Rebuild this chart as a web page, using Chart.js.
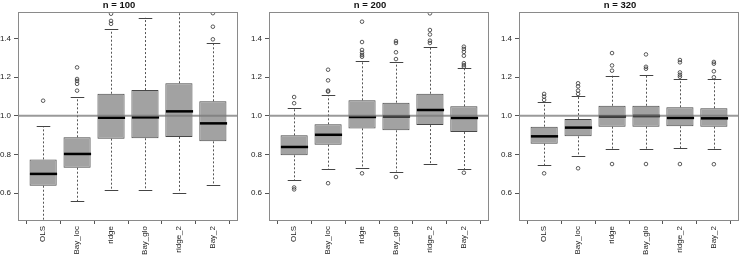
<!DOCTYPE html>
<html>
<head>
<meta charset="utf-8">
<script src="https://cdn.jsdelivr.net/npm/chart.js@4.4.1/dist/chart.umd.min.js"></script>
<style>
  body { margin: 0; width: 740px; height: 255px; overflow: hidden; background: #fff; position: relative; }
  canvas { position: absolute; top: 0; }
</style>
</head>
<body>
<canvas id="c100" width="245" height="255" style="left:0px"></canvas>
<canvas id="c200" width="245" height="255" style="left:251px"></canvas>
<canvas id="c320" width="245" height="255" style="left:501px"></canvas>
<script>
const methods = ['OLS', 'Bay_loc', 'ridge', 'Bay_glo', 'ridge_2', 'Bay_2'];
const yTicks = [0.6, 0.8, 1.0, 1.2, 1.4];
const refLine = 1.0;

// n = 100
const lo100  = [0.464, 0.559, 0.615, 0.615, 0.600, 0.644];
const q1_100 = [0.639, 0.732, 0.882, 0.884, 0.891, 0.868];
const med100 = [0.700, 0.803, 0.990, 0.992, 1.023, 0.961];
const q3_100 = [0.775, 0.889, 1.114, 1.133, 1.168, 1.075];
const hi100  = [0.946, 1.095, 1.446, 1.506, 1.560, 1.374];
const out100 = [[1.078], [1.13, 1.165, 1.18, 1.19, 1.25], [1.475, 1.49, 1.527], [], [], [1.395, 1.46, 1.53]];

// n = 200
const lo200  = [0.667, 0.725, 0.729, 0.712, 0.751, 0.724];
const q1_200 = [0.796, 0.851, 0.935, 0.925, 0.952, 0.916];
const med200 = [0.839, 0.902, 0.994, 0.997, 1.030, 0.989];
const q3_200 = [0.899, 0.956, 1.080, 1.068, 1.114, 1.049];
const hi200  = [1.042, 1.107, 1.284, 1.276, 1.355, 1.245];
const out200 = [[0.62, 0.63, 1.065, 1.097], [0.652, 1.125, 1.13, 1.183, 1.238],
  [0.703, 1.305, 1.314, 1.326, 1.34, 1.381, 1.486], [0.684, 1.293, 1.328, 1.376, 1.386],
  [1.376, 1.388, 1.42, 1.443, 1.529], [0.706, 1.253, 1.262, 1.272, 1.31, 1.33, 1.345, 1.357]];

// n = 320
const lo320  = [0.746, 0.791, 0.827, 0.827, 0.832, 0.829];
const q1_320 = [0.856, 0.894, 0.944, 0.944, 0.946, 0.944];
const med320 = [0.894, 0.939, 0.997, 0.999, 0.989, 0.987];
const q3_320 = [0.944, 0.983, 1.052, 1.052, 1.044, 1.039];
const hi320  = [1.071, 1.102, 1.207, 1.209, 1.192, 1.192];
const out320 = [[0.703, 1.082, 1.099, 1.113], [0.729, 1.113, 1.13, 1.152, 1.168],
  [0.751, 1.233, 1.26, 1.324], [0.751, 1.243, 1.253, 1.317],
  [0.751, 1.202, 1.212, 1.224, 1.276, 1.288], [0.75, 1.199, 1.23, 1.269, 1.278]];

const FONT = 'Liberation Sans, Arial, Helvetica, sans-serif';

function boxExtras(lo, med, hi) {
  return {
    id: 'boxExtras',
    afterDatasetsDraw(chart) {
      const ctx = chart.ctx;
      const a = chart.chartArea;
      const xs = chart.scales.x, ys = chart.scales.y;
      const bars = chart.getDatasetMeta(0).data;
      ctx.save();
      ctx.beginPath();
      ctx.rect(a.left, a.top, a.right - a.left, a.bottom - a.top);
      ctx.clip();
      methods.forEach((m, i) => {
        const x = Math.round(xs.getPixelForValue(i + 1)) + 0.5;
        const w = bars[i].width;
        const yq1 = ys.getPixelForValue(chart.data.datasets[0].data[i].y[0]);
        const yq3 = ys.getPixelForValue(chart.data.datasets[0].data[i].y[1]);
        const ylo = ys.getPixelForValue(lo[i]);
        const yhi = ys.getPixelForValue(hi[i]);
        // whiskers
        ctx.strokeStyle = '#555';
        ctx.lineWidth = 1;
        ctx.setLineDash([2, 2]);
        ctx.beginPath();
        ctx.moveTo(x, yq3); ctx.lineTo(x, yhi);
        ctx.moveTo(x, yq1); ctx.lineTo(x, ylo);
        ctx.stroke();
        ctx.setLineDash([]);
        // caps
        ctx.strokeStyle = '#444';
        ctx.beginPath();
        ctx.moveTo(x - w / 4, Math.round(yhi) + 0.5); ctx.lineTo(x + w / 4, Math.round(yhi) + 0.5);
        ctx.moveTo(x - w / 4, Math.round(ylo) + 0.5); ctx.lineTo(x + w / 4, Math.round(ylo) + 0.5);
        ctx.stroke();
        // median
        ctx.strokeStyle = '#000';
        ctx.lineWidth = 2.5;
        ctx.beginPath();
        const ym = ys.getPixelForValue(med[i]);
        ctx.moveTo(x - w / 2, ym); ctx.lineTo(x + w / 2, ym);
        ctx.stroke();
      });
      // reference line
      const yr = ys.getPixelForValue(refLine);
      ctx.strokeStyle = 'rgba(120,120,120,0.75)';
      ctx.lineWidth = 2;
      ctx.beginPath();
      ctx.moveTo(a.left, yr); ctx.lineTo(a.right, yr);
      ctx.stroke();
      ctx.restore();
      // frame
      ctx.save();
      ctx.strokeStyle = '#8a8a8a';
      ctx.lineWidth = 1;
      ctx.strokeRect(Math.round(a.left) + 0.5, Math.round(a.top) + 0.5,
        Math.round(a.right - a.left) - 1, Math.round(a.bottom - a.top));
      ctx.restore();
    }
  };
}

function makePanel(id, title, lo, q1, med, q3, hi, outs) {
  const boxes = methods.map((m, i) => ({ x: i + 1, y: [q1[i], q3[i]] }));
  const points = [];
  outs.forEach((list, i) => list.forEach(v => points.push({ x: i + 1, y: v })));

  new Chart(document.getElementById(id), {
    type: 'bar',
    data: {
      datasets: [
        {
          data: boxes,
          backgroundColor: '#a2a2a2',
          borderColor: '#484848',
          borderWidth: 1,
          borderSkipped: false,
          categoryPercentage: 1,
          barPercentage: 0.8
        },
        {
          type: 'scatter',
          data: points,
          pointRadius: 1.8,
          pointBorderWidth: 0.8,
          pointBackgroundColor: 'rgba(0,0,0,0)',
          pointBorderColor: '#333'
        }
      ]
    },
    options: {
      responsive: false,
      animation: false,
      devicePixelRatio: 1,
      layout: { padding: { left: 0, right: 7, top: 0, bottom: 0 } },
      plugins: {
        legend: { display: false },
        tooltip: { enabled: false },
        title: {
          display: true,
          text: title,
          color: '#111',
          font: { family: FONT, size: 9.5, weight: 'bold', lineHeight: 1 },
          padding: { top: 1, bottom: 1.5 }
        }
      },
      scales: {
        x: {
          type: 'linear',
          min: 0.26,
          max: 6.74,
          offset: false,
          afterBuildTicks: (s) => { s.ticks = methods.map((m, i) => ({ value: i + 1 })); },
          afterFit: (s) => { s.height = 35; },
          ticks: {
            autoSkip: false,
            minRotation: 90,
            maxRotation: 90,
            padding: 2,
            color: '#222',
            font: { family: FONT, size: 8 },
            callback: (v, i) => methods[i]
          },
          grid: { drawOnChartArea: false, drawTicks: true, tickLength: 4, tickColor: '#555' },
          border: { display: false }
        },
        y: {
          min: 0.462,
          max: 1.536,
          afterBuildTicks: (s) => { s.ticks = yTicks.map(v => ({ value: v })); },
          afterFit: (s) => { s.width = 18; },
          ticks: {
            padding: 3,
            color: '#222',
            font: { family: FONT, size: 8 },
            callback: (v) => v.toFixed(1)
          },
          grid: { drawOnChartArea: false, drawTicks: true, tickLength: 4, tickColor: '#555' },
          border: { display: false }
        }
      }
    },
    plugins: [boxExtras(lo, med, hi)]
  });
}

makePanel('c100', 'n = 100', lo100, q1_100, med100, q3_100, hi100, out100);
makePanel('c200', 'n = 200', lo200, q1_200, med200, q3_200, hi200, out200);
makePanel('c320', 'n = 320', lo320, q1_320, med320, q3_320, hi320, out320);
</script>
</body>
</html>
